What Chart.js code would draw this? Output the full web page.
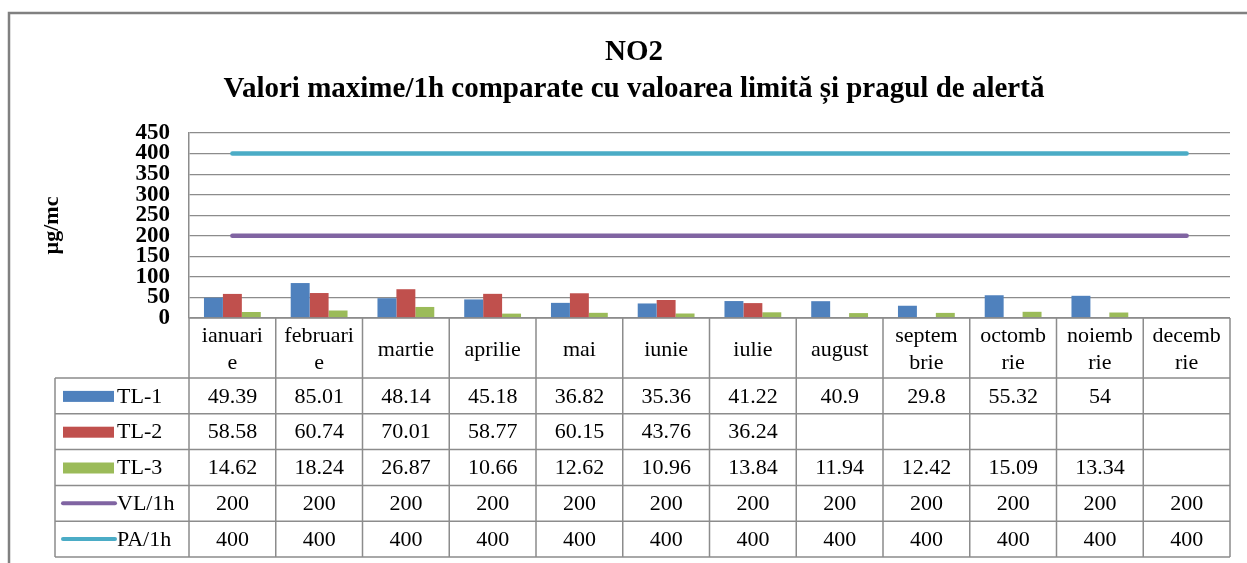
<!DOCTYPE html>
<html>
<head>
<meta charset="utf-8">
<script src="https://cdn.jsdelivr.net/npm/chart.js@4.4.1/dist/chart.umd.min.js"></script>
<style>
  html, body { margin: 0; padding: 0; background: #fff; }
  #wrap { width: 1247px; height: 563px; }
</style>
</head>
<body>
<div id="wrap"><canvas id="chart" width="1247" height="563"></canvas></div>
<script>
// month labels (wrapped the way the table shows them)
var months = [
  ['ianuari', 'e'], ['februari', 'e'], 'martie', 'aprilie', 'mai', 'iunie',
  'iulie', 'august', ['septem', 'brie'], ['octomb', 'rie'], ['noiemb', 'rie'], ['decemb', 'rie']
];

var tl1 = [49.39, 85.01, 48.14, 45.18, 36.82, 35.36, 41.22, 40.9, 29.8, 55.32, 54, null];
var tl2 = [58.58, 60.74, 70.01, 58.77, 60.15, 43.76, 36.24, null, null, null, null, null];
var tl3 = [14.62, 18.24, 26.87, 10.66, 12.62, 10.96, 13.84, 11.94, 12.42, 15.09, 13.34, null];
var vl1h = [200, 200, 200, 200, 200, 200, 200, 200, 200, 200, 200, 200];
var pa1h = [400, 400, 400, 400, 400, 400, 400, 400, 400, 400, 400, 400];

var serif = '"Liberation Serif", "Times New Roman", serif';

// white background + the outer frame of the excel chart
var framePlugin = {
  id: 'frame',
  beforeDraw: function(chart) {
    var ctx = chart.ctx;
    ctx.save();
    ctx.fillStyle = '#fff';
    ctx.fillRect(0, 0, chart.width, chart.height);
    ctx.strokeStyle = '#808080';
    ctx.lineWidth = 2.5;
    ctx.beginPath();
    ctx.moveTo(9, chart.height);
    ctx.lineTo(9, 13);
    ctx.lineTo(chart.width, 13);
    ctx.stroke();
    ctx.restore();
  }
};

// data table under the plot (excel "data table with legend keys")
var tablePlugin = {
  id: 'dataTable',
  afterDraw: function(chart) {
    var ctx = chart.ctx;
    var xs = chart.scales.x;
    var area = chart.chartArea;
    var half = (xs.getPixelForValue(1) - xs.getPixelForValue(0)) / 2;
    var top = area.bottom;
    var headH = 60;
    var rowH = 35.8;
    var legLeft = 55;
    var right = area.right;
    var bottom = top + headH + rowH * chart.data.datasets.length;

    ctx.save();
    ctx.strokeStyle = '#8c8c8c';
    ctx.lineWidth = 1.5;

    // horizontal lines
    ctx.beginPath();
    ctx.moveTo(area.left, top);
    ctx.lineTo(right, top);
    for (var r = 0; r <= chart.data.datasets.length; r++) {
      var y = top + headH + r * rowH;
      ctx.moveTo(legLeft, y);
      ctx.lineTo(right, y);
    }
    // vertical lines
    ctx.moveTo(legLeft, top + headH);
    ctx.lineTo(legLeft, bottom);
    for (var i = 0; i < months.length; i++) {
      var cx = xs.getPixelForValue(i);
      ctx.moveTo(cx - half, top);
      ctx.lineTo(cx - half, bottom);
    }
    ctx.moveTo(right, top);
    ctx.lineTo(right, bottom);
    ctx.stroke();

    // header: month names
    ctx.fillStyle = '#000';
    ctx.font = '22px ' + serif;
    ctx.textAlign = 'center';
    ctx.textBaseline = 'middle';
    for (var i = 0; i < months.length; i++) {
      var cx = xs.getPixelForValue(i);
      var lab = months[i];
      if (Array.isArray(lab)) {
        ctx.fillText(lab[0], cx, top + 18);
        ctx.fillText(lab[1], cx, top + 45);
      } else {
        ctx.fillText(lab, cx, top + 32);
      }
    }

    // rows
    chart.data.datasets.forEach(function(ds, r) {
      var yc = top + headH + r * rowH + rowH / 2;
      // legend key
      if (ds.type === 'line') {
        ctx.strokeStyle = ds.borderColor;
        ctx.lineWidth = 4;
        ctx.lineCap = 'round';
        ctx.beginPath();
        ctx.moveTo(63, yc);
        ctx.lineTo(115, yc);
        ctx.stroke();
      } else {
        ctx.fillStyle = ds.backgroundColor;
        ctx.fillRect(63, yc - 5, 51, 11);
      }
      ctx.fillStyle = '#000';
      ctx.font = '22px ' + serif;
      ctx.textAlign = 'left';
      ctx.fillText(ds.label, 117, yc + 1);
      ctx.textAlign = 'center';
      ds.data.forEach(function(v, i) {
        if (v === null) return;
        ctx.fillText(String(v), xs.getPixelForValue(i), yc + 1);
      });
    });
    ctx.restore();
  }
};

var ctx = document.getElementById('chart').getContext('2d');
var chart = new Chart(ctx, {
  type: 'bar',
  data: {
    labels: months,
    datasets: [
      { label: 'TL-1', data: tl1, backgroundColor: '#4F81BD', order: 3 },
      { label: 'TL-2', data: tl2, backgroundColor: '#C0504D', order: 3 },
      { label: 'TL-3', data: tl3, backgroundColor: '#9BBB59', order: 3 },
      { label: 'VL/1h', data: vl1h, type: 'line', borderColor: '#8064A2', backgroundColor: '#8064A2',
        borderWidth: 4.5, pointRadius: 0, borderCapStyle: 'round', order: 1 },
      { label: 'PA/1h', data: pa1h, type: 'line', borderColor: '#4BACC6', backgroundColor: '#4BACC6',
        borderWidth: 4.5, pointRadius: 0, borderCapStyle: 'round', order: 1 }
    ]
  },
  options: {
    responsive: false,
    animation: false,
    categoryPercentage: 0.655,
    barPercentage: 1,
    layout: { padding: { left: 38, right: 17, top: 13, bottom: 245 } },
    plugins: {
      legend: { display: false },
      tooltip: { enabled: false },
      title: {
        display: true,
        text: ['NO2', 'Valori maxime/1h comparate cu valoarea limită și pragul de alertă'],
        color: '#000',
        font: { family: serif, size: 29, weight: 'bold', lineHeight: '37px' },
        padding: { top: 21, bottom: 25 }
      }
    },
    scales: {
      x: {
        display: false
      },
      y: {
        min: 0,
        max: 450,
        afterFit: function(scale) { scale.width = 151; },
        ticks: {
          stepSize: 50,
          autoSkip: false,
          padding: 19,
          color: '#000',
          font: { family: serif, size: 23, weight: 'bold', lineHeight: 1 }
        },
        grid: { color: '#8c8c8c', lineWidth: 1.2, drawTicks: false },
        border: { color: '#8c8c8c', width: 1.5 },
        title: {
          display: true,
          text: 'µg/mc',
          color: '#000',
          padding: { top: 1, bottom: 0 },
          font: { family: serif, size: 22, weight: 'bold' }
        }
      }
    }
  },
  plugins: [framePlugin, tablePlugin]
});
</script>
</body>
</html>
